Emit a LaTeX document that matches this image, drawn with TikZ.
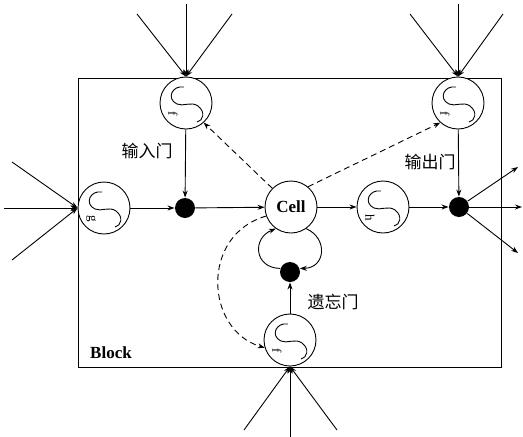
\documentclass[tikz,border=0pt]{standalone}
\usepackage{fontspec}
\setmainfont{Liberation Serif}
\newfontfamily\cjk{Noto Sans CJK SC}
\usetikzlibrary{arrows.meta}
\begin{document}
\begin{tikzpicture}[x=1pt,y=-1pt,line width=0.9pt,
  >={Stealth[length=7pt,width=5pt]},
  gate/.style={circle,draw,fill=white,minimum size=52pt,inner sep=0pt},
  mult/.style={circle,fill=black,minimum size=20pt,inner sep=0pt},
  lbl/.style={font=\cjk\fontsize{17}{19}\selectfont},
  dsh/.style={dash pattern=on 6pt off 4pt},
  sigm/.pic={
    \draw (-2,-16) .. controls (-14,-18) and (-20,-4) .. (-9,1)
          .. controls (-3,4) and (5,-2) .. (12,3)
          .. controls (20,9) and (17,18) .. (11,19);
    \node[rotate=-90,inner sep=0pt,font=\fontsize{13}{13}\selectfont] (-lt) at (-13,11) {#1};
  }]
\useasboundingbox (0,0) rectangle (523,437);
\node[draw,minimum width=423pt,minimum height=289pt,inner sep=0pt] (block) at (289.5,222.5) {};
\node[font=\bfseries\fontsize{17}{18}\selectfont] (blk) at (111,353) {Block};

\node[gate] (ig) at (186,103) {}; \pic (pig) at (ig) {sigm=f};
\node[gate] (og) at (458,103) {}; \pic (pog) at (og) {sigm=f};
\node[gate] (gg) at (104,208) {}; \pic (pgg) at (gg) {sigm=g};
\node[gate] (hh) at (383,207) {}; \pic (phh) at (hh) {sigm=h};
\node[gate] (fg) at (290,340) {}; \pic (pfg) at (fg) {sigm=f};
\node[gate,font=\bfseries\fontsize{17}{18}\selectfont] (cell) at (291,207) {Cell};
\node[mult] (id) at (185,208) {};
\node[mult] (od) at (459,207) {};
\node[mult] (fd) at (290,272) {};

\node[lbl] (t1) at (147,151) {输入门};
\node[lbl] (t2) at (430,162) {输出门};
\node[lbl] (t3) at (333,302) {遗忘门};

% external inputs
\coordinate (a1) at (137,14); \coordinate (a2) at (186,4); \coordinate (a3) at (232,14);
\coordinate (b1) at (410,14); \coordinate (b2) at (458,4); \coordinate (b3) at (503,14);
\coordinate (c1) at (12,162); \coordinate (c2) at (4,208); \coordinate (c3) at (12,260);
\coordinate (d1) at (244,430); \coordinate (d2) at (290,437); \coordinate (d3) at (337,430);
\foreach \p in {a1,a2,a3} \draw[->] (\p) -- (ig.north);
\foreach \p in {b1,b2,b3} \draw[->] (\p) -- (og.north);
\foreach \p in {c1,c2,c3} \draw[->] (\p) -- (gg.west);
\foreach \p in {d1,d2,d3} \draw[->] (\p) -- (fg.south);

% outputs
\coordinate (e1) at (518,167); \coordinate (e2) at (522,207); \coordinate (e3) at (518,253);
\foreach \p in {e1,e2,e3} \draw[->] (od) -- (\p);

% main flow
\draw[->] (gg) -- (id);
\draw[->] (ig) -- (id);
\draw[->] (id) -- (cell);
\draw[->] (cell) -- (hh);
\draw[->] (hh) -- (od);
\draw[->] (og) -- (od);
\draw[->] (fg) -- (fd);

% loop
\draw[->] (cell.-55) .. controls (328,238) and (326,268) .. (fd.20);
\draw[->] (fd.160) .. controls (254,268) and (252,238) .. (cell.-125);

% peepholes
\draw[->,dsh] (cell.135) -- (ig.-48);
\draw[->,dsh] (cell.50) -- (og.228);
\draw[->,dsh] (cell.200) .. controls (200,235) and (205,330) .. (fg.197);
\end{tikzpicture}
\end{document}
